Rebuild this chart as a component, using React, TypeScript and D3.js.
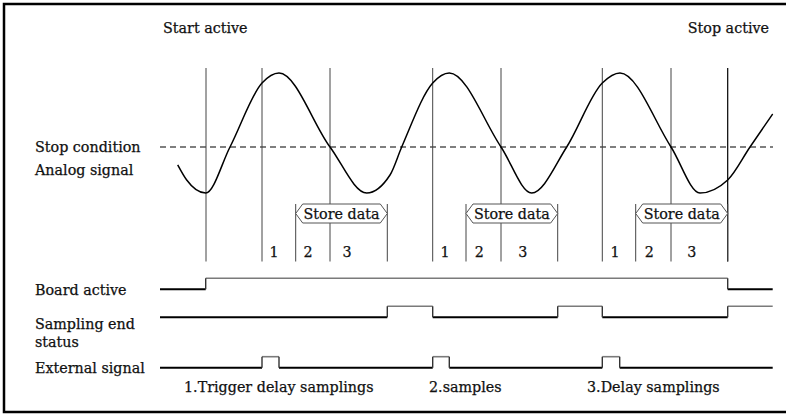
import React from "react";
import * as d3 from "d3";

// ---- Data (time axis in sample units, analog level normalised to [-1, 1]) ----
const waveT = [177.7, 186.7, 205.7, 230, 262, 279, 330, 366.7, 390, 401.7, 432.7, 449.3, 501, 531.7, 566.7, 602.3, 620, 671, 700, 727.7, 750, 772.7];
const waveV = [-0.53, -0.783, -1, -0.233, 0.833, 1, -0.233, -1, -0.7, -0.233, 0.833, 1, -0.233, -1, -0.233, 0.833, 1, -0.233, -1, -0.783, -0.233, 0.317];
const stopLevel = -0.233;
const signalStart = 160;
const signalEnd = 773;

const cycleMarkers = [206, 262, 330, 432.7, 501, 602.3, 671];
const stopMarker = 727.7;
const storeStart = [295.7, 466, 635.7];
const storeEnd = [387.3, 557.7, 727.7];
const phaseLabels = ["1", "2", "3"];
const phaseT = [
  [274, 308, 347],
  [445, 479.3, 522.7],
  [615, 649.3, 691.7],
];

const rowNames = ["Board active", "Sampling end status", "External signal"];
const boardEdges = [160, 205.7, 727.7, 772.7];
const boardLevels = [0, 1, 0];
const samplingEdges = [160, 387.3, 432.7, 557.7, 602.3, 727.7, 772.7];
const samplingLevels = [0, 1, 0, 1, 0, 1];
const externalEdges = [160, 262, 279, 432.7, 449.3, 602.3, 619.7, 772.7];
const externalLevels = [0, 1, 0, 1, 0, 1, 0];

const notes = ["1.Trigger delay samplings", "2.samples", "3.Delay samplings"];
const noteT = [184, 429, 587];

const FONT = "'DejaVu Serif', serif";

export default function App() {
  const W = 786;
  const H = 414;
  const x = d3.scaleLinear().domain([0, 786]).range([0, 786]);
  const y = d3.scaleLinear().domain([-1, 1]).range([193, 73]);
  const rowLow = d3.scaleOrdinal<string, number>().domain(rowNames).range([289.3, 317.3, 367.7]);
  const pulseH = 11;

  const wave = d3
    .line<number>()
    .x((_, i) => x(waveT[i]))
    .y((v) => y(v))
    .curve(d3.curveMonotoneX)(waveV);

  const markerTop = 68;
  const markerBottom = 261.5;
  const boxTop = 204;
  const boxBottom = 223;
  const boxMid = (boxTop + boxBottom) / 2;

  const digital = (name: string, edges: number[], levels: number[]) => {
    const lo = rowLow(name);
    const hi = lo - pulseH;
    const els: React.ReactNode[] = [];
    levels.forEach((lv, i) => {
      const yy = lv ? hi : lo;
      els.push(
        <line key={`s${i}`} x1={x(edges[i])} x2={x(edges[i + 1])} y1={yy} y2={yy}
          stroke={lv ? "#7a7a7a" : "#000"} strokeWidth={lv ? 1.6 : 2} />
      );
      if (i > 0) {
        els.push(
          <line key={`e${i}`} x1={x(edges[i])} x2={x(edges[i])} y1={hi} y2={lo}
            stroke="#333" strokeWidth={1.4} />
        );
      }
    });
    return <g key={name}>{els}</g>;
  };

  return (
    <div style={{ position: "fixed", left: 0, top: 0, width: W, height: H, background: "#fff" }}>
      <svg width={W} height={H} style={{ display: "block" }} fontFamily={FONT} fontSize={14.3}
        stroke="none">
        <rect x={0} y={0} width={W} height={H} fill="#fff" />
        <rect x={4} y={4} width={820} height={408} fill="none" stroke="#000" strokeWidth={2.5} />

        <g fill="#111" stroke="#111" strokeWidth={0.25}>
          <text x={163} y={33}>Start active</text>
          <text x={769} y={33} textAnchor="end">Stop active</text>
          <text x={35} y={152}>Stop condition</text>
          <text x={35} y={174.5}>Analog signal</text>
          <text x={35} y={295}>Board active</text>
          <text x={35} y={328.5}>Sampling end</text>
          <text x={35} y={347}>status</text>
          <text x={35} y={373}>External signal</text>
          {notes.map((n, i) => (
            <text key={`n${i}`} x={x(noteT[i])} y={392}>{n}</text>
          ))}
        </g>

        {/* stop condition threshold */}
        <line x1={x(signalStart)} x2={x(signalEnd)} y1={y(stopLevel)} y2={y(stopLevel)}
          stroke="#000" strokeWidth={1.2} strokeDasharray="6,4" />

        {/* cycle markers */}
        {cycleMarkers.map((t, i) => (
          <line key={`m${i}`} x1={x(t)} x2={x(t)} y1={markerTop} y2={markerBottom} stroke="#444" strokeWidth={1} />
        ))}
        <line x1={x(stopMarker)} x2={x(stopMarker)} y1={markerTop} y2={markerBottom} stroke="#000" strokeWidth={1.2} />
        {storeStart.map((t, i) => (
          <g key={`ss${i}`}>
            <line x1={x(t)} x2={x(t)} y1={boxTop} y2={markerBottom} stroke="#444" strokeWidth={1} />
            <line x1={x(storeEnd[i])} x2={x(storeEnd[i])} y1={boxTop} y2={markerBottom} stroke="#444" strokeWidth={1} />
          </g>
        ))}

        {/* analog signal */}
        <path d={wave ?? ""} fill="none" stroke="#000" strokeWidth={1.5} />

        {/* store data boxes */}
        {storeStart.map((t, i) => {
          const a = x(t);
          const b = x(storeEnd[i]);
          const pts = [
            [a, boxMid], [a + 7, boxTop], [b - 7, boxTop], [b, boxMid], [b - 7, boxBottom], [a + 7, boxBottom],
          ];
          return (
            <g key={`box${i}`}>
              <polygon points={pts.map((p) => p.join(",")).join(" ")} fill="#fff" stroke="#555" strokeWidth={1} />
              <text x={(a + b) / 2} y={218.5} textAnchor="middle" fill="#111" stroke="#111" strokeWidth={0.25}>Store data</text>
            </g>
          );
        })}

        {/* phase labels */}
        <g fill="#111" stroke="#111" strokeWidth={0.25}>
          {phaseT.map((arr, c) =>
            arr.map((t, j) => (
              <text key={`p${c}${j}`} x={x(t)} y={257} textAnchor="middle">{phaseLabels[j]}</text>
            ))
          )}
        </g>

        {/* digital signals */}
        {digital(rowNames[0], boardEdges, boardLevels)}
        {digital(rowNames[1], samplingEdges, samplingLevels)}
        {digital(rowNames[2], externalEdges, externalLevels)}
      </svg>
    </div>
  );
}
